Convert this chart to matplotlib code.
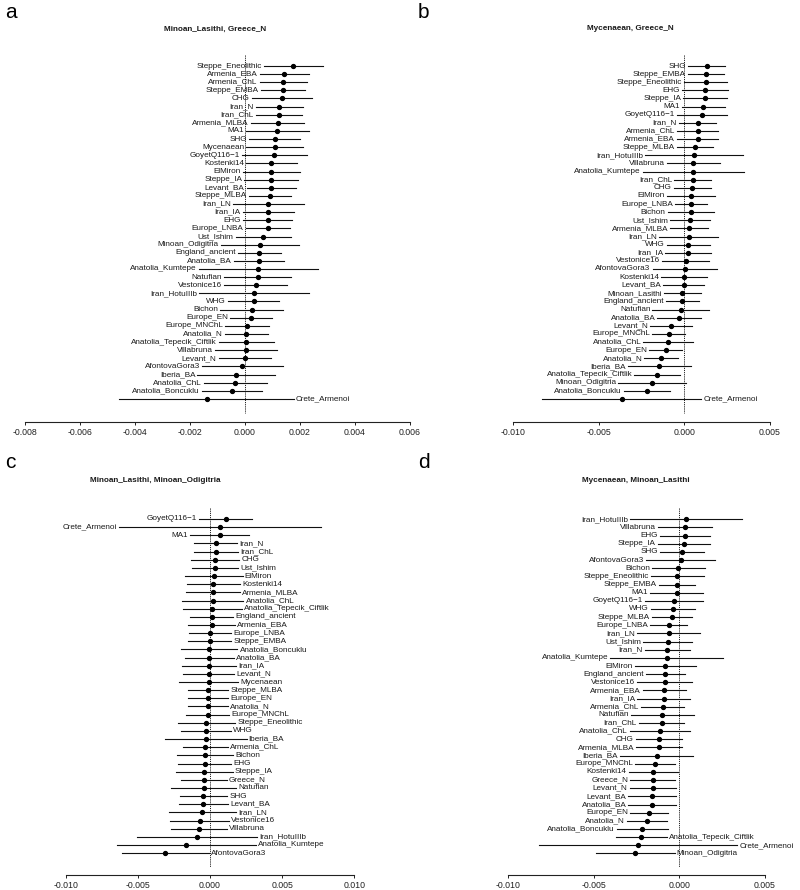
import matplotlib
matplotlib.use('Agg')
import matplotlib.pyplot as plt

plt.rcParams['font.family'] = ['Liberation Sans', 'DejaVu Sans']

# panel a: Minoan_Lasithi, Greece_N
a_names = ['Steppe_Eneolithic', 'Armenia_EBA', 'Armenia_ChL', 'Steppe_EMBA', 'CHG', 'Iran_N', 'Iran_ChL',
           'Armenia_MLBA', 'MA1', 'SHG', 'Mycenaean', 'GoyetQ116\u22121', 'Kostenki14', 'ElMiron', 'Steppe_IA',
           'Levant_BA', 'Steppe_MLBA', 'Iran_LN', 'Iran_IA', 'EHG', 'Europe_LNBA', 'Ust_Ishim', 'Minoan_Odigitria',
           'England_ancient', 'Anatolia_BA', 'Anatolia_Kumtepe', 'Natufian', 'Vestonice16', 'Iran_HotuIIIb', 'WHG',
           'Bichon', 'Europe_EN', 'Europe_MNChL', 'Anatolia_N', 'Anatolia_Tepecik_Ciftlik', 'Villabruna', 'Levant_N',
           'AfontovaGora3', 'Iberia_BA', 'Anatolia_ChL', 'Anatolia_Boncuklu', 'Crete_Armenoi']
a_est = [0.00176, 0.00142, 0.00139, 0.00137, 0.00134, 0.00125, 0.00124, 0.00119, 0.00118, 0.00108, 0.00108,
         0.00107, 0.00096, 0.00096, 0.00096, 0.00096, 0.00091, 0.00085, 0.00084, 0.00083, 0.00082, 0.00066,
         0.00054, 0.00052, 0.00051, 0.00049, 0.00047, 0.00039, 0.00034, 0.00031, 0.00024, 0.00021, 0.00008,
         0.00005, 0.00005, 0.00004, 0.0, -0.0001, -0.00032, -0.00035, -0.00047, -0.0014]
a_err = [0.00106, 0.00089, 0.00085, 0.0008, 0.0011, 0.00085, 0.00084, 0.00097, 0.00114, 0.00092, 0.00103,
         0.00118, 0.00092, 0.00103, 0.00098, 0.0009, 0.00078, 0.00128, 0.00093, 0.00089, 0.0008, 0.001,
         0.00142, 0.00078, 0.00092, 0.00217, 0.00122, 0.00115, 0.002, 0.00093, 0.00115, 0.00076, 0.00079,
         0.00077, 0.001, 0.00114, 0.00096, 0.00147, 0.00141, 0.00115, 0.0011, 0.00317]
a_right = ['Crete_Armenoi']
a_ticks = [-0.008, -0.006, -0.004, -0.002, 0.0, 0.002, 0.004, 0.006]

# panel b: Mycenaean, Greece_N
b_names = ['SHG', 'Steppe_EMBA', 'Steppe_Eneolithic', 'EHG', 'Steppe_IA', 'MA1', 'GoyetQ116\u22121', 'Iran_N',
           'Armenia_ChL', 'Armenia_EBA', 'Steppe_MLBA', 'Iran_HotuIIIb', 'Villabruna', 'Anatolia_Kumtepe',
           'Iran_ChL', 'CHG', 'ElMiron', 'Europe_LNBA', 'Bichon', 'Ust_Ishim', 'Armenia_MLBA', 'Iran_LN', 'WHG',
           'Iran_IA', 'Vestonice16', 'AfontovaGora3', 'Kostenki14', 'Levant_BA', 'Minoan_Lasithi',
           'England_ancient', 'Natufian', 'Anatolia_BA', 'Levant_N', 'Europe_MNChL', 'Anatolia_ChL', 'Europe_EN',
           'Anatolia_N', 'Iberia_BA', 'Anatolia_Tepecik_Ciftlik', 'Minoan_Odigitria', 'Anatolia_Boncuklu',
           'Crete_Armenoi']
b_est = [0.00131, 0.00125, 0.00125, 0.00121, 0.00121, 0.00111, 0.00101, 0.00078, 0.00078, 0.00078, 0.00062,
         0.00057, 0.00053, 0.00053, 0.00049, 0.00047, 0.00039, 0.00039, 0.00037, 0.00033, 0.00029, 0.00026,
         0.00023, 0.0002, 0.00008, 0.00004, -0.00002, -0.00004, -0.00012, -0.00013, -0.00021, -0.00031,
         -0.00078, -0.00091, -0.00095, -0.00109, -0.00136, -0.00146, -0.00158, -0.00187, -0.00219, -0.00365]
b_err = [0.00109, 0.00106, 0.00126, 0.00133, 0.00126, 0.00126, 0.00146, 0.00109, 0.00119, 0.00119, 0.00107,
         0.00284, 0.00156, 0.00297, 0.00107, 0.00107, 0.0014, 0.00093, 0.00134, 0.00117, 0.00111, 0.00172,
         0.00124, 0.00133, 0.00136, 0.00188, 0.00133, 0.0012, 0.00108, 0.00096, 0.00165, 0.00126, 0.00121,
         0.00097, 0.00144, 0.00097, 0.00097, 0.00183, 0.00134, 0.00199, 0.00134, 0.00464]
b_right = ['Crete_Armenoi']
b_ticks = [-0.010, -0.005, 0.0, 0.005]

# panel c: Minoan_Lasithi, Minoan_Odigitria
c_names = ['GoyetQ116\u22121', 'Crete_Armenoi', 'MA1', 'Iran_N', 'Iran_ChL', 'CHG', 'Ust_Ishim', 'ElMiron',
           'Kostenki14', 'Armenia_MLBA', 'Anatolia_ChL', 'Anatolia_Tepecik_Ciftlik', 'England_ancient',
           'Armenia_EBA', 'Europe_LNBA', 'Steppe_EMBA', 'Anatolia_Boncuklu', 'Anatolia_BA', 'Iran_IA', 'Levant_N',
           'Mycenaean', 'Steppe_MLBA', 'Europe_EN', 'Anatolia_N', 'Europe_MNChL', 'Steppe_Eneolithic', 'WHG',
           'Iberia_BA', 'Armenia_ChL', 'Bichon', 'EHG', 'Steppe_IA', 'Greece_N', 'Natufian', 'SHG', 'Levant_BA',
           'Iran_LN', 'Vestonice16', 'Villabruna', 'Iran_HotuIIIb', 'Anatolia_Kumtepe', 'AfontovaGora3']
c_est = [0.00109, 0.00069, 0.00067, 0.0004, 0.0004, 0.00037, 0.00033, 0.00026, 0.00023, 0.00021, 0.00019,
         0.00016, 0.00012, 0.00012, 0.0, -0.00002, -0.00004, -0.00004, -0.00007, -0.00009, -0.00009, -0.00014,
         -0.00014, -0.00014, -0.00016, -0.00025, -0.0003, -0.0003, -0.00032, -0.00035, -0.00037, -0.00039,
         -0.00044, -0.00044, -0.00046, -0.00046, -0.00053, -0.00071, -0.00078, -0.0009, -0.00163, -0.00309]
c_err = [0.00184, 0.0070, 0.00205, 0.0015, 0.00154, 0.00167, 0.0016, 0.002, 0.00185, 0.00185, 0.00213,
         0.00205, 0.00148, 0.00163, 0.00148, 0.00148, 0.00194, 0.00171, 0.00185, 0.00177, 0.00205, 0.00139,
         0.0014, 0.0014, 0.00147, 0.00199, 0.00173, 0.00283, 0.00154, 0.00196, 0.00185, 0.00197, 0.00159,
         0.00226, 0.00164, 0.00171, 0.00232, 0.00204, 0.00195, 0.00416, 0.00479, 0.003]
c_left = ['GoyetQ116\u22121', 'Crete_Armenoi', 'MA1']
c_right = [n for n in c_names if n not in c_left]
c_ticks = [-0.010, -0.005, 0.0, 0.005, 0.010]

# panel d: Mycenaean, Minoan_Lasithi
d_names = ['Iran_HotuIIIb', 'Villabruna', 'EHG', 'Steppe_IA', 'SHG', 'AfontovaGora3', 'Bichon',
           'Steppe_Eneolithic', 'Steppe_EMBA', 'MA1', 'GoyetQ116\u22121', 'WHG', 'Steppe_MLBA', 'Europe_LNBA',
           'Iran_LN', 'Ust_Ishim', 'Iran_N', 'Anatolia_Kumtepe', 'ElMiron', 'England_ancient', 'Vestonice16',
           'Armenia_EBA', 'Iran_IA', 'Armenia_ChL', 'Natufian', 'Iran_ChL', 'Anatolia_ChL', 'CHG', 'Armenia_MLBA',
           'Iberia_BA', 'Europe_MNChL', 'Kostenki14', 'Greece_N', 'Levant_N', 'Levant_BA', 'Anatolia_BA',
           'Europe_EN', 'Anatolia_N', 'Anatolia_Boncuklu', 'Anatolia_Tepecik_Ciftlik', 'Crete_Armenoi',
           'Minoan_Odigitria']
d_est = [0.00038, 0.00034, 0.00032, 0.00026, 0.00016, 0.00009, -0.00005, -0.00011, -0.00013, -0.00015, -0.0003,
         -0.00036, -0.00044, -0.00063, -0.00063, -0.00069, -0.00071, -0.00073, -0.00081, -0.00083, -0.00085,
         -0.00087, -0.00091, -0.00098, -0.001, -0.00104, -0.00114, -0.00118, -0.00118, -0.00133, -0.0014,
         -0.00152, -0.00156, -0.00156, -0.00158, -0.00158, -0.00176, -0.00191, -0.00215, -0.00221, -0.0024,
         -0.00256]
d_err = [0.00326, 0.00159, 0.00146, 0.00151, 0.00129, 0.00201, 0.00154, 0.00153, 0.00105, 0.00154, 0.00168,
         0.00128, 0.00117, 0.00109, 0.00185, 0.00141, 0.00131, 0.00329, 0.00177, 0.00114, 0.0016, 0.00126,
         0.00156, 0.00123, 0.00183, 0.00133, 0.00175, 0.00136, 0.00134, 0.00212, 0.00117, 0.00144, 0.00131,
         0.00134, 0.00141, 0.00139, 0.00112, 0.00117, 0.00151, 0.0015, 0.00578, 0.00229]
d_right = ['Anatolia_Tepecik_Ciftlik', 'Crete_Armenoi', 'Minoan_Odigitria']
d_ticks = [-0.010, -0.005, 0.0, 0.005]

W, H = 800, 890
fig = plt.figure(figsize=(W / 100, H / 100), dpi=100)


def panel(letter, title, names, est, err, right, ticks, x0, x1, y_first, row_h, y_axis, y_top, title_xy, letter_xy):
    # axes box in pixels: x0..x1 spans the first..last tick, y_top..y_axis vertically
    ax = fig.add_axes([x0 / W, 1 - y_axis / H, (x1 - x0) / W, (y_axis - y_top) / H])
    ax.set_xlim(ticks[0], ticks[-1])
    ax.set_ylim((y_axis - y_first) / row_h, (y_top - y_first) / row_h)
    n = len(names)
    ax.plot([0, 0], [-1.4, n + 0.7], color='#222222', lw=0.7, ls=(0, (1.2, 1.0)), zorder=1)
    for i, (nm, v, e) in enumerate(zip(names, est, err)):
        ax.plot([v - e, v + e], [i, i], color='#111111', lw=0.8, zorder=2, clip_on=False)
        ax.plot(v, i, 'o', color='black', ms=2.8, zorder=3, clip_on=False)
        if nm in right:
            ax.annotate(nm, (v + e, i), xytext=(1.5, 0), textcoords='offset points', ha='left', va='center',
                        fontsize=5.9, color='#1a1a1a', annotation_clip=False)
        else:
            ax.annotate(nm, (v - e, i), xytext=(-1.5, 0), textcoords='offset points', ha='right', va='center',
                        fontsize=5.9, color='#1a1a1a', annotation_clip=False)
    for s in ['left', 'top', 'right']:
        ax.spines[s].set_visible(False)
    ax.spines['bottom'].set_bounds(ticks[0], ticks[-1])
    ax.spines['bottom'].set_linewidth(0.8)
    ax.spines['bottom'].set_color('#222222')
    ax.set_yticks([])
    ax.set_xticks(ticks)
    ax.set_xticklabels(['%.3f' % t for t in ticks])
    ax.tick_params(axis='x', length=2.5, width=0.7, pad=2, labelsize=6.3, colors='#222222')
    ax.patch.set_visible(False)
    fig.text(title_xy[0] / W, 1 - title_xy[1] / H, title, ha='center', va='center', fontsize=5.9,
             fontweight='bold', color='#1a1a1a')
    fig.text(letter_xy[0] / W, 1 - letter_xy[1] / H, letter, ha='left', va='center', fontsize=15)


panel('a', 'Minoan_Lasithi, Greece_N', a_names, a_est, a_err, a_right, a_ticks,
      25, 410, 66, 8.12, 422, 50, (215, 29), (5, 12))
panel('b', 'Mycenaean, Greece_N', b_names, b_est, b_err, b_right, b_ticks,
      513, 770, 66, 8.12, 422, 50, (630, 29), (418, 12))
panel('c', 'Minoan_Lasithi, Minoan_Odigitria', c_names, c_est, c_err, c_right, c_ticks,
      65.7, 354.3, 519, 8.15, 875, 500, (155, 480), (5, 462))
panel('d', 'Mycenaean, Minoan_Lasithi', d_names, d_est, d_err, d_right, d_ticks,
      508, 765, 519.3, 8.15, 875, 500, (636, 480), (418, 462))

fig.savefig('out.png', dpi=100)
